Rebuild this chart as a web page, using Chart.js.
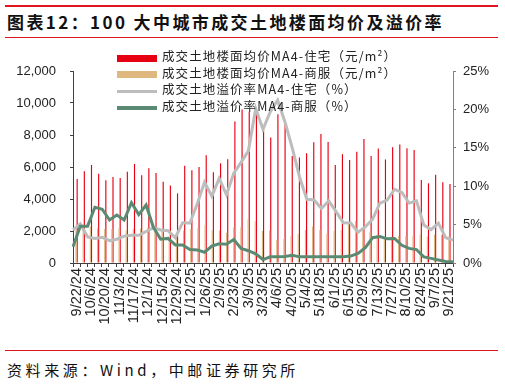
<!DOCTYPE html>
<html>
<head>
<meta charset="utf-8">
<script src="https://cdn.jsdelivr.net/npm/chart.js@4/dist/chart.umd.min.js"></script>
<style>
  html, body { margin:0; padding:0; background:#fff; }
  body { width:505px; height:385px; position:relative; overflow:hidden; font-family:"Noto Sans CJK SC","Noto Sans",sans-serif; }
  .rule { position:absolute; left:5px; width:493px; background:#e0141e; }
  #title { position:absolute; left:7px; top:9px; font-size:17px; font-weight:bold; letter-spacing:2.4px; color:#111; white-space:nowrap; line-height:26px; }
  #foot { position:absolute; left:7px; top:358px; font-size:15px; letter-spacing:3.6px; color:#111; white-space:nowrap; line-height:24px; }
  #c { position:absolute; left:0; top:40px; }
  #legend { position:absolute; left:117px; top:50px; font-size:12.5px; letter-spacing:1.1px; color:#222; }
  .row { position:absolute; left:0; height:16px; white-space:nowrap; }
  .sw { position:absolute; left:0; width:40px; }
  .lt { position:absolute; left:45px; top:-2px; line-height:16px; }
</style>
</head>
<body>
<div class="rule" style="top:5px;height:2px;"></div>
<div id="title">图表12：100 大中城市成交土地楼面均价及溢价率</div>
<div class="rule" style="top:37px;height:1px;"></div>
<canvas id="c" width="505" height="305"></canvas>
<div id="legend"></div>
<div class="rule" style="top:350px;height:1px;"></div>
<div id="foot">资料来源：Wind，中邮证券研究所</div>
<script>
const categories = ["9/22/24","9/29/24","10/6/24","10/13/24","10/20/24","10/27/24","11/3/24","11/10/24","11/17/24","11/24/24","12/1/24","12/8/24","12/15/24","12/22/24","12/29/24","1/5/25","1/12/25","1/19/25","1/26/25","2/2/25","2/9/25","2/16/25","2/23/25","3/2/25","3/9/25","3/16/25","3/23/25","3/30/25","4/6/25","4/13/25","4/20/25","4/27/25","5/4/25","5/11/25","5/18/25","5/25/25","6/1/25","6/8/25","6/15/25","6/22/25","6/29/25","7/6/25","7/13/25","7/20/25","7/27/25","8/3/25","8/10/25","8/17/25","8/24/25","8/31/25","9/7/25","9/14/25","9/21/25"];

const seriesNames = ["成交土地楼面均价MA4-住宅（元/m²）","成交土地楼面均价MA4-商服（元/m²）","成交土地溢价率MA4-住宅（%）","成交土地溢价率MA4-商服（%）"];

const residentialPrice = [5250,5730,6125,5580,5170,5375,5310,5710,6190,5480,
  5920,5625,5080,4850,4350,6080,5790,6000,6730,5670,
  6230,6480,8850,9600,9450,9700,8310,7850,9290,8760,
  6690,6600,6860,7540,8060,7560,6125,6800,6440,6960,
  7750,6690,7160,6470,7230,7410,7170,7060,5190,4980,
  5520,5040,4940];

const commercialPrice = [2060,2375,2280,2170,2125,2125,2190,2040,2125,2150,
  2210,2170,2060,1650,1600,2030,2125,2180,2360,2050,
  2040,1890,2240,2240,2740,2610,2000,2040,1440,1500,
  1690,1810,2060,2280,2060,1850,2000,2060,2560,2625,
  2060,1960,1750,1540,1650,1690,1690,1690,1770,1650,
  1770,1770,1650];

const residentialPremium = [4.3,5.1,3.4,3.2,3.35,2.9,3.1,3.5,3.6,3.6,
  4.1,4.6,4.3,4.2,3.3,5.25,5.2,7.7,10.5,8.7,
  11.0,8.9,11.7,13.1,14.6,20.1,17.4,19.7,21.2,18.4,
  15.0,11.2,8.3,8.2,7.1,8.1,6.7,5.25,5.2,4.0,
  4.7,5.7,7.8,8.2,9.6,9.2,7.8,8.1,4.95,4.35,
  5.2,3.3,3.0];

const commercialPremium = [2.1,4.8,4.8,7.25,7.0,5.6,6.25,5.6,7.85,6.3,
  7.55,4.65,3.1,3.2,2.35,2.35,1.75,1.7,1.4,2.2,
  2.5,2.45,3.05,1.9,1.6,1.2,0.45,0.8,0.8,0.85,
  1.0,0.8,0.8,0.8,0.8,0.8,0.8,0.8,0.9,1.25,
  2.0,3.3,3.45,3.15,3.2,2.3,1.9,1.75,0.8,0.6,
  0.4,0.2,0.15];

const leftTicks = [0,2000,4000,6000,8000,10000,12000];
const rightTicks = [0,5,10,15,20,25];

const colors = { red:"#e60012", tan:"#dfb880", gray:"#bdbdbd", green:"#5b8a73" };

const legendSpec = [
  {name:seriesNames[0], color:colors.red, kind:"bar"},
  {name:seriesNames[1], color:colors.tan, kind:"bar"},
  {name:seriesNames[2], color:colors.gray, kind:"line"},
  {name:seriesNames[3], color:colors.green, kind:"line"}
];
const lg = document.getElementById('legend');
legendSpec.forEach((it, i) => {
  const row = document.createElement('div');
  row.className = 'row';
  row.style.top = (i * 16.7) + 'px';
  const sw = document.createElement('div');
  sw.className = 'sw';
  const h = it.kind === 'bar' ? 7 : 3.5;
  sw.style.height = h + 'px';
  sw.style.top = (8 - h / 2) + 'px';
  sw.style.background = it.color;
  const t = document.createElement('div');
  t.className = 'lt';
  t.textContent = it.name;
  row.appendChild(sw); row.appendChild(t);
  lg.appendChild(row);
});

const yFont = { family: "'Liberation Sans', Arial, sans-serif", size: 13 };
const xFont = { family: "'Liberation Sans', Arial, sans-serif", size: 14.5 };

new Chart(document.getElementById('c'), {
  type: 'bar',
  data: {
    labels: categories,
    datasets: [
      { type:'line', label:seriesNames[3], data:commercialPremium, xAxisID:'x2', yAxisID:'y2',
        borderColor:colors.green, borderWidth:3, pointRadius:0, tension:0, order:0 },
      { type:'line', label:seriesNames[2], data:residentialPremium, xAxisID:'x2', yAxisID:'y2',
        borderColor:colors.gray, borderWidth:3, pointRadius:0, tension:0, order:1 },
      { type:'bar', label:seriesNames[1], data:commercialPrice, xAxisID:'x', yAxisID:'y',
        backgroundColor:colors.tan, order:2, categoryPercentage:0.64, barPercentage:1 },
      { type:'bar', label:seriesNames[0], data:residentialPrice, xAxisID:'x', yAxisID:'y',
        backgroundColor:colors.red, order:3, categoryPercentage:0.64, barPercentage:1 }
    ]
  },
  options: {
    responsive:false, animation:false, devicePixelRatio:1,
    layout: { padding: { top:31, left:0, right:0, bottom:0 } },
    plugins: { legend:{display:false}, tooltip:{enabled:false}, title:{display:false} },
    scales: {
      x: {
        type:'category', offset:true, position:'bottom',
        grid: { offset:true, drawOnChartArea:false, drawTicks:true, tickLength:4, color:'#404040' },
        border: { color:'#404040', width:1 },
        ticks: { autoSkip:false, minRotation:90, maxRotation:90, padding:1, color:'#222', font:xFont,
          callback: function(v, i) { return i % 2 === 0 ? categories[i] : ''; } },
        afterFit: function(s) { s.height = 82; }
      },
      x2: { type:'category', offset:false, display:false, grid:{ offset:false } },
      y: {
        position:'left', min:0, max:12000,
        afterBuildTicks: function(s) { s.ticks = leftTicks.map(v => ({ value:v })); },
        grid: { drawOnChartArea:false, drawTicks:true, tickLength:3, color:'#404040' },
        border: { color:'#404040', width:1 },
        ticks: { padding:14, color:'#222', font:yFont,
          callback: function(v) { return Number(v).toLocaleString('en-US'); } },
        afterFit: function(s) { s.width = 73; }
      },
      y2: {
        position:'right', min:0, max:25,
        afterBuildTicks: function(s) { s.ticks = rightTicks.map(v => ({ value:v })); },
        grid: { drawOnChartArea:false, drawTicks:true, tickLength:3, color:'#808080' },
        border: { color:'#808080', width:1 },
        ticks: { padding:7, color:'#222', font:yFont,
          callback: function(v) { return v + '%'; } },
        afterFit: function(s) { s.width = 52; }
      }
    }
  }
});
</script>
</body>
</html>
